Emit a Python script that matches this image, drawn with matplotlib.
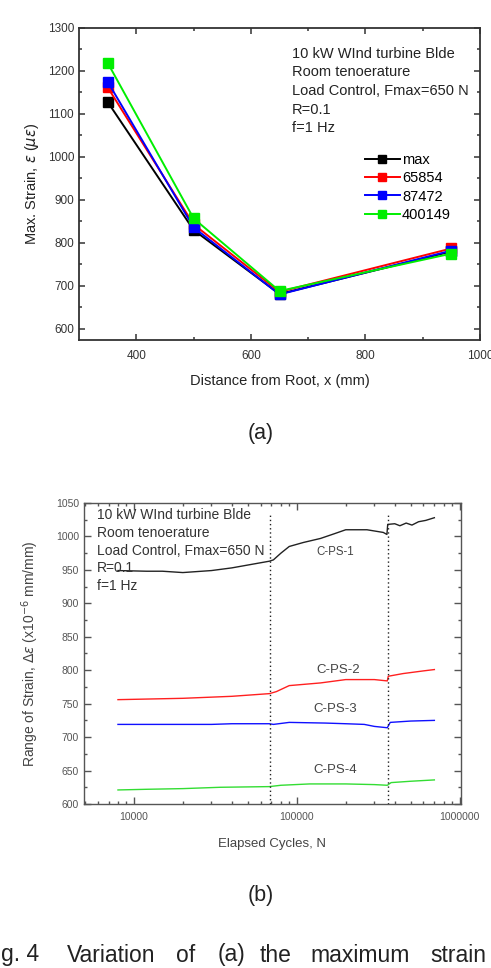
import numpy as np
import matplotlib
matplotlib.use('Agg')
from matplotlib import pyplot as plt
from matplotlib.ticker import MultipleLocator, LogLocator, FixedLocator, NullFormatter

plt.rcParams['font.family'] = ['Liberation Sans', 'DejaVu Sans']
plt.rcParams['mathtext.fontset'] = 'dejavusans'

# (a) max strain vs distance from root
distance = [350, 500, 650, 950]
strain_max = [1128, 830, 681, 780]
strain_65854 = [1162, 843, 686, 787]
strain_87472 = [1175, 836, 680, 782]
strain_400149 = [1219, 857, 688, 775]
series_a = [('max', strain_max, '#000000'),
            ('65854', strain_65854, '#ff0000'),
            ('87472', strain_87472, '#0000ff'),
            ('400149', strain_400149, '#00ee00')]

# (b) range of strain vs elapsed cycles
cps1_n = [8000, 12000, 15000, 20000, 30000, 40000, 55000, 68000, 72000, 80000, 90000,
          110000, 140000, 170000, 200000, 270000, 340000, 358000, 362000, 400000,
          430000, 470000, 510000, 560000, 620000, 700000]
cps1_v = [949, 948, 948, 946, 949, 953, 959, 963, 965, 975, 985,
          991, 997, 1004, 1010, 1010, 1006, 1003, 1018, 1019,
          1016, 1020, 1017, 1022, 1024, 1028]
cps2_n = [8000, 20000, 40000, 68000, 75000, 90000, 140000, 200000, 300000, 360000,
          365000, 450000, 600000, 700000]
cps2_v = [756, 758, 761, 765, 768, 777, 781, 786, 786, 784, 791, 795, 799, 801]
cps3_n = [8000, 30000, 40000, 68000, 72000, 90000, 150000, 200000, 260000, 300000,
          360000, 375000, 500000, 700000]
cps3_v = [719, 719, 720, 720, 719, 722, 721, 720, 719, 716, 714, 722, 724, 725]
cps4_n = [8000, 12000, 20000, 34000, 68000, 80000, 120000, 200000, 300000, 360000,
          380000, 500000, 700000]
cps4_v = [621, 622, 623, 625, 626, 628, 630, 630, 629, 628, 632, 634, 636]
series_b = [('C-PS-1', cps1_n, cps1_v, '#222222', 172000, 977, 8.3),
            ('C-PS-2', cps2_n, cps2_v, '#ff2020', 179000, 801, 9.5),
            ('C-PS-3', cps3_n, cps3_v, '#1010ff', 172000, 742, 9.5),
            ('C-PS-4', cps4_n, cps4_v, '#33dd33', 172000, 651, 9.5)]
marker_cycles = [68700, 364000]

test_lines = ['10 kW WInd turbine Blde', 'Room tenoerature',
              'Load Control, Fmax=650 N', 'R=0.1', 'f=1 Hz']

fig = plt.figure(figsize=(4.91, 9.68), dpi=100)
W, H = 491.0, 968.0

# ---------- (a) ----------
ax = fig.add_axes([79 / W, 1 - 340 / H, 401 / W, 312 / H])
for name, vals, col in series_a:
    ax.plot(distance, vals, '-s', color=col, lw=1.4, ms=6.5, label=name)
ax.set_xlim(300, 1000)
ax.set_ylim(574, 1300)
ax.xaxis.set_major_locator(FixedLocator([400, 600, 800, 1000]))
ax.xaxis.set_minor_locator(FixedLocator([500, 700, 900]))
ax.yaxis.set_major_locator(MultipleLocator(100))
ax.yaxis.set_minor_locator(MultipleLocator(50))
ax.tick_params(which='both', direction='in', top=True, right=True, colors='#333333',
               labelsize=8.5, width=1.1)
ax.tick_params(which='major', length=4.5)
ax.tick_params(which='minor', length=2.5)
ax.tick_params(axis='x', pad=7)
for sp in ax.spines.values():
    sp.set_linewidth(1.3)
    sp.set_color('#333333')
ax.set_xlabel('Distance from Root, x (mm)', fontsize=10.5, color='#222222', labelpad=9)
ax.set_ylabel(r'Max. Strain, $\varepsilon$ ($\mu\varepsilon$)', fontsize=10.5,
              color='#222222', labelpad=5)
for i, line in enumerate(test_lines):
    ax.text((292 - 79) / 401, 1 - (54 + 18.5 * i - 28) / 312, line, transform=ax.transAxes,
            fontsize=10.5, color='#222222', va='center', ha='left')
ax.legend(loc='upper left', bbox_to_anchor=(0.713, 0.60), frameon=False, fontsize=10.5,
          borderpad=0, borderaxespad=0, handlelength=2.4, handletextpad=0.15,
          labelspacing=0.3, markerscale=0.9)
fig.text(261 / W, 1 - 433 / H, '(a)', fontsize=15.5, ha='center', va='center', color='#222222')

# ---------- (b) ----------
bx = fig.add_axes([84 / W, 1 - 804 / H, 377 / W, 301 / H])
for name, ns, vs, col, lx, ly, fs in series_b:
    bx.plot(ns, vs, '-', color=col, lw=1.0)
    bx.text(lx, ly, name, fontsize=fs, color='#444444', ha='center', va='center')
bx.vlines(marker_cycles, 600, 1035, colors='#222222', linestyles=(0, (1, 2)), lw=1.0)
bx.set_xscale('log')
bx.set_xlim(4950, 1.02e6)
bx.set_ylim(600, 1050)
bx.xaxis.set_major_locator(FixedLocator([1e4, 1e5, 1e6]))
bx.xaxis.set_major_formatter(matplotlib.ticker.FuncFormatter(lambda v, p: '%d' % v))
bx.xaxis.set_minor_locator(LogLocator(base=10, subs=np.arange(2, 10)))
bx.xaxis.set_minor_formatter(NullFormatter())
bx.yaxis.set_major_locator(MultipleLocator(50))
bx.yaxis.set_minor_locator(MultipleLocator(25))
bx.tick_params(which='both', direction='in', top=True, right=True, colors='#555555',
               labelsize=7.5, width=1.0)
bx.tick_params(which='major', length=5)
bx.tick_params(which='minor', length=2.5)
bx.tick_params(axis='x', pad=6)
for sp in bx.spines.values():
    sp.set_linewidth(1.0)
    sp.set_color('#555555')
bx.set_xlabel('Elapsed Cycles, N', fontsize=9.5, color='#444444', labelpad=11)
bx.set_ylabel(r'Range of Strain, $\Delta\varepsilon$ (x10$^{-6}$ mm/mm)', fontsize=10,
              color='#444444', labelpad=11)
for i, line in enumerate(test_lines):
    bx.text((97 - 84) / 377, 1 - (515 + 17.8 * i - 503) / 301, line, transform=bx.transAxes,
            fontsize=10, color='#333333', va='center', ha='left')
fig.text(261 / W, 1 - 895 / H, '(b)', fontsize=15.5, ha='center', va='center', color='#222222')

# caption (the scan cuts off the start of "Fig.")
fig.text(1 / W, 1 - 955 / H, 'g. 4', fontsize=16.5, ha='left', va='center', color='#222222')
cap_words = ['Variation', 'of', '(a)', 'the', 'maximum', 'strain']
cap_x = [67, 176, 218, 260, 310, 430]
for wd, xx in zip(cap_words, cap_x):
    fig.text(xx / W, 1 - 955 / H, wd, fontsize=16.5, ha='left', va='center', color='#222222')

fig.savefig('out.png', dpi=100)
